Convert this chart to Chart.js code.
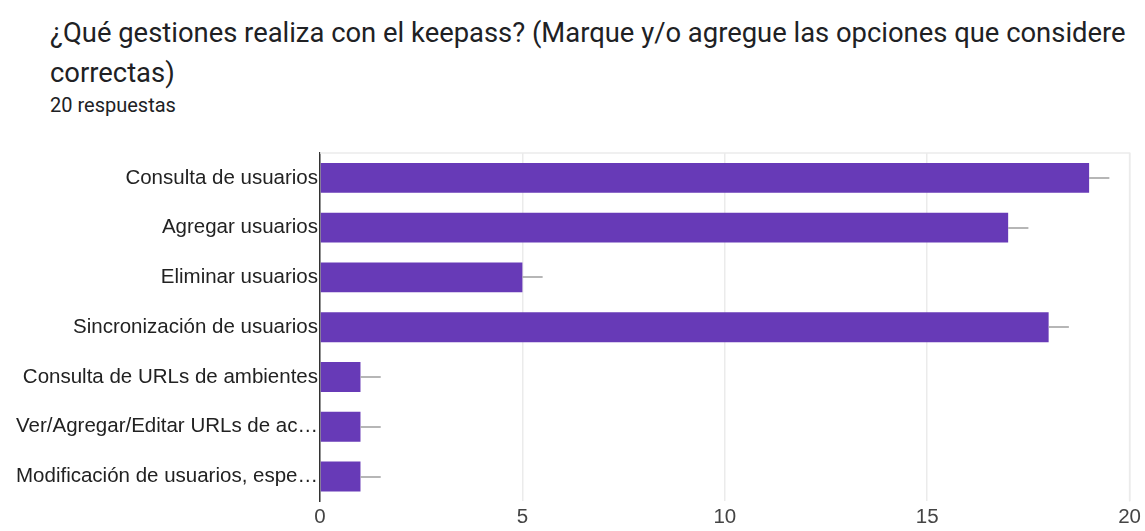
<!DOCTYPE html>
<html>
<head>
<meta charset="utf-8">
<script src="https://cdn.jsdelivr.net/npm/chart.js@4/dist/chart.umd.min.js"></script>
<style>
  body { margin: 0; background: #fff; width: 1145px; height: 531px; overflow: hidden; position: relative; }
  .title { position: absolute; left: 50px; top: 13px; width: 1090px; font-family: Roboto, sans-serif; font-size: 27.4px; line-height: 40px; color: #202124; }
  .sub { position: absolute; left: 50px; top: 93px; font-family: Roboto, sans-serif; font-size: 20px; color: #202124; }
  #wrap { position: absolute; left: 0; top: 130px; width: 1145px; height: 404px; }
</style>
</head>
<body>
<div class="title">¿Qué gestiones realiza con el keepass? (Marque y/o agregue las opciones que considere correctas)</div>
<div class="sub">20 respuestas</div>
<div id="wrap"><canvas id="chart"></canvas></div>
<script>
const categories = [
    'Consulta de usuarios',
    'Agregar usuarios',
    'Eliminar usuarios',
    'Sincronización de usuarios',
    'Consulta de URLs de ambientes',
    'Ver/Agregar/Editar URLs de ac…',
    'Modificación de usuarios, espe…'
];
const counts = [19, 17, 5, 18, 1, 1, 1];
const xTicks = [0, 5, 10, 15, 20];
const whisker = 0.5;

const labelFont = "'Liberation Sans', Arial, sans-serif";

// light frame round the plot and grey stub past the end of each bar
const whiskerPlugin = {
    id: 'whiskers',
    beforeDatasetsDraw(chart) {
        const a = chart.chartArea;
        const ctx = chart.ctx;
        ctx.save();
        ctx.strokeStyle = '#ebebeb';
        ctx.lineWidth = 1.5;
        ctx.beginPath();
        ctx.moveTo(a.left, a.top);
        ctx.lineTo(a.right, a.top);
        ctx.lineTo(a.right, a.bottom);
        ctx.stroke();
        ctx.restore();
    },
    afterDatasetsDraw(chart) {
        const ctx = chart.ctx;
        const xs = chart.scales.x;
        const ys = chart.scales.y;
        ctx.save();
        ctx.strokeStyle = '#9e9e9e';
        ctx.lineWidth = 1.5;
        counts.forEach((v, i) => {
            const y = Math.round(ys.getPixelForValue(i));
            ctx.beginPath();
            ctx.moveTo(xs.getPixelForValue(v), y);
            ctx.lineTo(xs.getPixelForValue(v + whisker), y);
            ctx.stroke();
        });
        ctx.restore();
    }
};

new Chart(document.getElementById('chart').getContext('2d'), {
    type: 'bar',
    data: {
        labels: categories,
        datasets: [{
            data: counts,
            backgroundColor: '#673ab7',
            borderWidth: 0,
            barPercentage: 0.6,
            categoryPercentage: 1
        }]
    },
    options: {
        indexAxis: 'y',
        responsive: true,
        maintainAspectRatio: false,
        animation: false,
        layout: { padding: { top: 23, right: -6, left: 0, bottom: 0 } },
        plugins: {
            legend: { display: false },
            tooltip: { enabled: false }
        },
        scales: {
            x: {
                min: 0,
                max: 20,
                afterBuildTicks: axis => { axis.ticks = xTicks.map(v => ({ value: v })); },
                grid: { color: '#ebebeb', lineWidth: 1.5, drawTicks: false },
                border: { display: false },
                ticks: { color: '#444', padding: 4, font: { family: labelFont, size: 20.5 } }
            },
            y: {
                grid: { display: false, drawTicks: false },
                border: { color: '#333', width: 1.5 },
                afterFit: axis => { axis.width = 320; },
                ticks: { color: '#222', padding: 2, font: { family: labelFont, size: 20.5 } }
            }
        }
    },
    plugins: [whiskerPlugin]
});
</script>
</body>
</html>
